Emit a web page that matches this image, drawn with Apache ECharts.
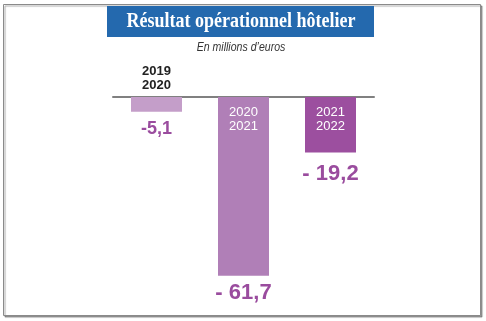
<!DOCTYPE html>
<html><head><meta charset="utf-8">
<script src="https://cdn.jsdelivr.net/npm/echarts@6/dist/echarts.min.js"></script>
<style>html,body{margin:0;padding:0;background:#fff}#c{width:486px;height:321px}</style>
</head><body><div id="c"></div>
<script>
const categories = ['2019\n2020', '2020\n2021', '2021\n2022'];
const values = [-5.1, -61.7, -19.2];
const valueLabels = ['-5,1', '- 61,7', '- 19,2'];
const barColors = ['#c49ec9', '#b07fb7', '#9c4f9f'];
const titleText = 'Résultat opérationnel hôtelier';
const subtitleText = 'En millions d\u2019euros';

const chart = echarts.init(document.getElementById('c'));
const narrow = '"Liberation Sans Narrow", "Liberation Sans", Arial, sans-serif';
chart.setOption({
  animation: false,
  graphic: [
    {type: 'rect', shape: {x: 3.5, y: 4.5, width: 477, height: 311}, style: {fill: '#fff', stroke: '#8a8a8a', lineWidth: 1, shadowColor: 'rgba(0,0,0,0.35)', shadowOffsetX: 1.5, shadowOffsetY: 1.5, shadowBlur: 1}, z: -10},
    {type: 'rect', shape: {x: 107, y: 6, width: 267, height: 31}, style: {fill: '#2469ae'}, z: 1},
    {type: 'text', x: 241, y: 22, scaleX: 0.9, style: {text: titleText, fill: '#fff', font: 'bold 20px "Liberation Serif", "Times New Roman", serif', align: 'center', verticalAlign: 'middle'}, z: 2},
    {type: 'text', x: 241, y: 48, scaleX: 0.88, style: {text: subtitleText, fill: '#333', font: 'italic 12px ' + narrow, align: 'center', verticalAlign: 'middle'}, z: 2}
  ],
  grid: {left: 113, right: 112, top: 97, height: 202.7},
  xAxis: {type: 'category', data: categories, position: 'top',
    axisLine: {show: true, lineStyle: {color: '#808080', width: 2}},
    axisTick: {show: false}, axisLabel: {show: false}},
  yAxis: {type: 'value', min: -70, max: 0, show: false, splitLine: {show: false}},
  series: [
    {type: 'bar', barWidth: 51, z: 2,
     data: values.map((v, i) => ({value: v, itemStyle: {color: barColors[i]},
       label: {show: true, position: 'bottom', distance: [8, 6, 10][i],
         formatter: valueLabels[i], color: '#9a4c9e', fontWeight: 'bold',
         fontFamily: narrow, fontSize: [18, 22, 22][i]}}))},
    {type: 'bar', barWidth: 51, barGap: '-100%', z: 3,
     data: values.map((v, i) => ({value: v, itemStyle: {color: 'rgba(0,0,0,0)'},
       label: {show: true, position: i === 0 ? 'top' : 'insideTop', distance: i === 0 ? 5 : 8,
         formatter: categories[i], color: i === 0 ? '#222' : '#fff',
         fontWeight: i === 0 ? 'bold' : 'normal', fontFamily: narrow, fontSize: 13, lineHeight: 14}}))}
  ]
});
</script></body></html>
